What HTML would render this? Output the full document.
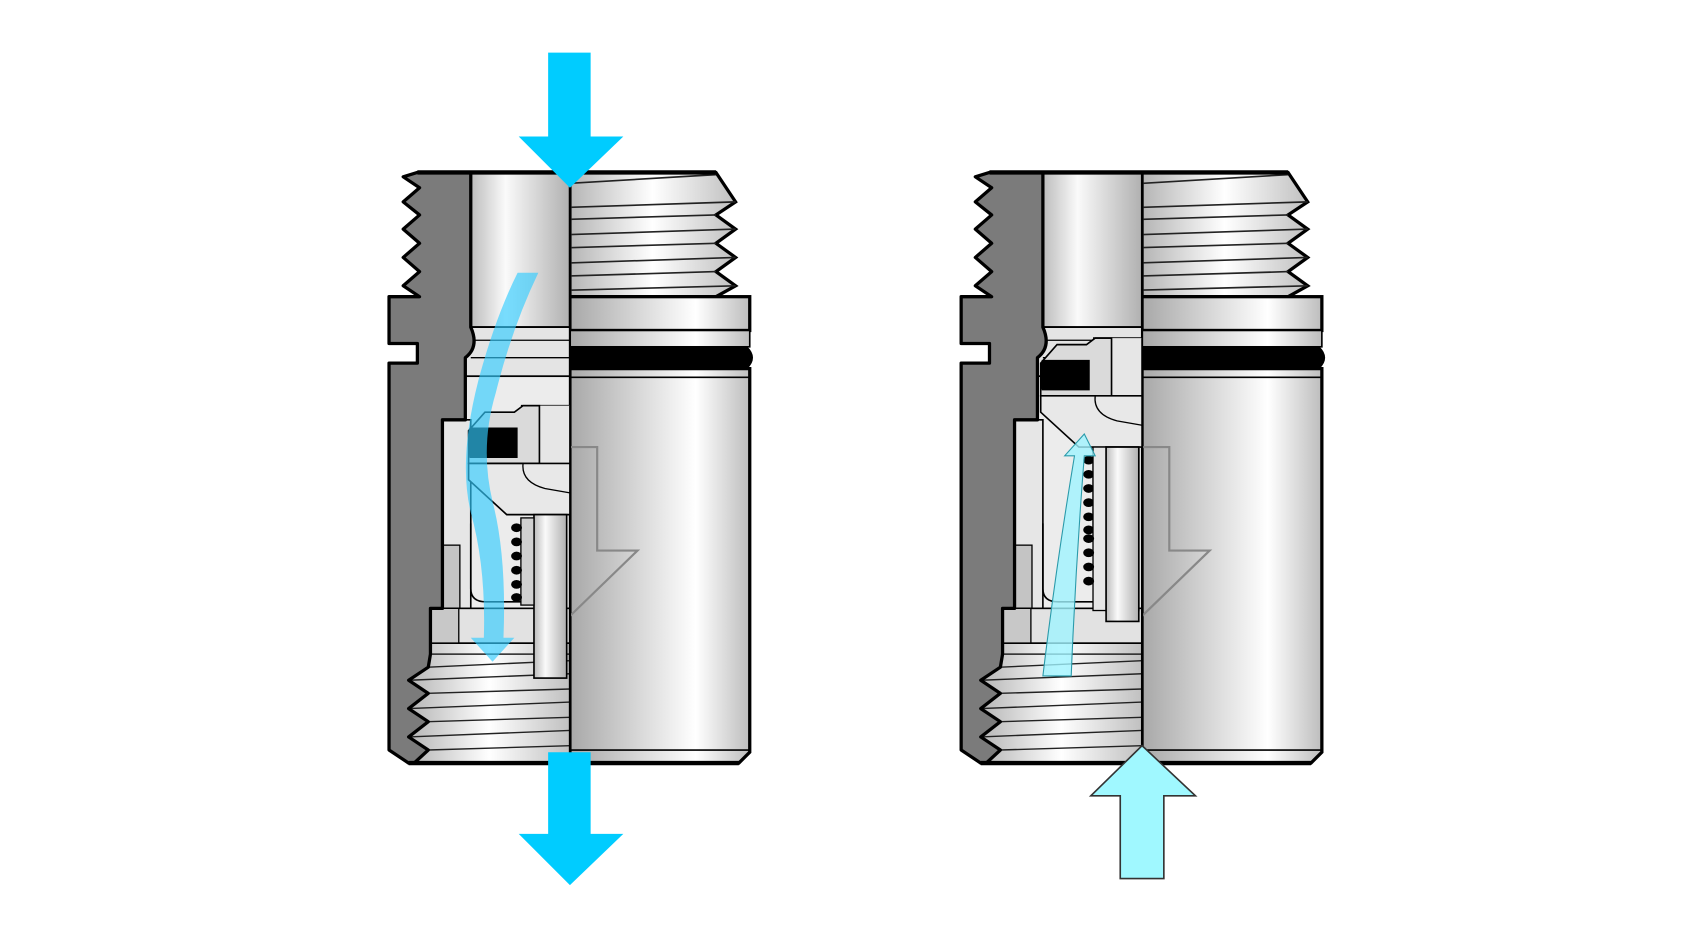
<!DOCTYPE html>
<html><head><meta charset="utf-8"><style>html,body{margin:0;padding:0;background:#fff}svg{display:block}</style></head>
<body>
<svg width="1700" height="929" viewBox="0 0 1560 852" xmlns="http://www.w3.org/2000/svg">
<defs>
<linearGradient id="cyl" x1="0" x2="1" y1="0" y2="0">
<stop offset="0" stop-color="#a8a8a8"/><stop offset="0.7" stop-color="#ffffff"/><stop offset="1" stop-color="#bdbdbd"/></linearGradient>
<linearGradient id="bore" x1="0" x2="1" y1="0" y2="0">
<stop offset="0" stop-color="#bcbcbc"/><stop offset="0.35" stop-color="#fafafa"/><stop offset="1" stop-color="#b0b0b0"/></linearGradient>
<linearGradient id="thr" x1="0" x2="1" y1="0" y2="0">
<stop offset="0" stop-color="#b5b5b5"/><stop offset="0.5" stop-color="#ffffff"/><stop offset="1" stop-color="#c0c0c0"/></linearGradient>
<g id="body">
  <path d="M523,158 L657,158 L675,185 L657,197 L675,210 L657,223 L675,236 L657,249 L675,262 L657,272 L523,272 Z" fill="url(#thr)" stroke="#000" stroke-width="3"/>
  <g stroke="#222" stroke-width="1.5" fill="none">
    <path d="M523,168 L657,160"/><path d="M523,190 L675,185"/><path d="M523,201 L657,197"/>
    <path d="M523,215 L675,210"/><path d="M523,227 L657,223"/><path d="M523,241 L675,236"/>
    <path d="M523,253 L657,249"/><path d="M523,266 L675,262"/>
  </g>
  <rect x="523" y="272" width="165" height="31" fill="url(#cyl)" stroke="#000" stroke-width="3"/>
  <rect x="523" y="303" width="165" height="15" fill="url(#cyl)" stroke="#000" stroke-width="1.5"/>
  <path d="M523,318 L686,318 Q696,328 686,338 L523,338 Z" fill="#000"/>
  <path d="M523,338 L688,338 L688,690 L678,700 L523,700 Z" fill="url(#cyl)" stroke="#000" stroke-width="3"/>
  <line x1="523" y1="346" x2="688" y2="346" stroke="#000" stroke-width="1.5"/>
  <line x1="523" y1="688" x2="688" y2="688" stroke="#000" stroke-width="1.5"/>
  <path d="M523,410 L548,410 L548,505 L585,505 L523,565" fill="none" stroke="#888" stroke-width="2"/>
  <rect x="432" y="158" width="91" height="142" fill="url(#bore)" stroke="#000" stroke-width="2"/>
  <path d="M432,300 L523,300 L523,345 L427,345 L427,328 Q440,318 432,300 Z" fill="#e4e4e4" stroke="#000" stroke-width="1.5"/>
  <line x1="436" y1="312" x2="523" y2="312" stroke="#000" stroke-width="1.2"/>
  <line x1="432" y1="328" x2="523" y2="328" stroke="#000" stroke-width="1.2"/>
  <rect x="427" y="345" width="96" height="245" fill="#ececec" stroke="#000" stroke-width="1.5"/>
  <rect x="406" y="385" width="26" height="205" fill="#e6e6e6" stroke="#000" stroke-width="1.5"/>
  <rect x="406" y="500" width="16" height="58" fill="#c4c4c4" stroke="#000" stroke-width="1.2"/>
  <rect x="395" y="558" width="128" height="32" fill="#e2e2e2" stroke="#000" stroke-width="1.5"/>
  <rect x="395" y="558" width="26" height="32" fill="#c8c8c8" stroke="#000" stroke-width="1.2"/>
  <path d="M432,480 L432,540 Q432,552 446,552 L480,552" fill="none" stroke="#000" stroke-width="1.5"/>
  <path d="M393,590 L523,590 L523,700 L380,700 L393,688 L375,676 L393,662 L375,650 L393,636 L375,624 L393,612 Z" fill="url(#thr)" stroke="#000" stroke-width="1.5"/>
  <g stroke="#222" stroke-width="1.3">
    <line x1="393" y1="600" x2="523" y2="600"/><line x1="393" y1="612" x2="523" y2="606"/>
    <line x1="375" y1="624" x2="523" y2="618"/><line x1="393" y1="636" x2="523" y2="632"/>
    <line x1="375" y1="650" x2="523" y2="644"/><line x1="393" y1="662" x2="523" y2="658"/>
    <line x1="375" y1="676" x2="523" y2="670"/><line x1="393" y1="688" x2="523" y2="684"/>
  </g>
  <path d="M383,158 L432,158 L432,300 Q440,318 427,328 L427,385 L406,385 L406,558 L395,558 L395,600 L393,612 L375,624 L393,636 L375,650 L393,662 L375,676 L393,688 L380,700 L375,700 L357,688 L357,333 L383,333 L383,315 L357,315 L357,272 L385,272 L370,262 L385,249 L370,236 L385,223 L370,210 L385,197 L370,185 L385,172 L370,162 Z" fill="#7b7b7b" stroke="#000" stroke-width="3" stroke-linejoin="round"/>
  <line x1="523" y1="158" x2="523" y2="700" stroke="#000" stroke-width="2"/>
  <path d="M383,158 L657,158" stroke="#000" stroke-width="4"/>
  <path d="M375,700 L678,700" stroke="#000" stroke-width="4"/>
</g>
<g id="valve">
  <path d="M430,395 L445,378 L472,378 L480,372 L523,372 L523,425 L430,425 Z" fill="#dadada" stroke="#000" stroke-width="1.5"/>
  <path d="M431,392 L475,392 L475,420 L431,420 Q428,405 431,392 Z" fill="#000"/>
  <path d="M478,372 L495,372 L495,432 Q498,446 510,446 L523,446 L523,372" fill="#e6e6e6" stroke="#000" stroke-width="1.5"/>
  <path d="M430,425 L523,425 L523,472 L465,472 L430,440 Z" fill="#e8e8e8" stroke="#000" stroke-width="1.5"/>
  <path d="M430,425 L480,425 Q478,442 500,448 L523,452" fill="none" stroke="#000" stroke-width="1.2"/>
  <rect x="490" y="472" width="30" height="150" fill="url(#bore)" stroke="#000" stroke-width="1.5"/>
  <rect x="478" y="475" width="12" height="80" fill="#d0d0d0" stroke="#000" stroke-width="1.2"/>
  <g fill="#000">
    <ellipse cx="474" cy="484" rx="5" ry="4"/><ellipse cx="474" cy="497" rx="5" ry="4"/><ellipse cx="474" cy="510" rx="5" ry="4"/>
    <ellipse cx="474" cy="523" rx="5" ry="4"/><ellipse cx="474" cy="536" rx="5" ry="4"/><ellipse cx="474" cy="548" rx="5" ry="4"/>
  </g>
</g>
</defs>

<use href="#body"/>
<use href="#valve"/>
<path d="M475,250 L494,250 Q470,300 455,360 Q440,410 452,460 Q465,510 462,585 L472,585 L452,607 L432,585 L444,585 Q446,520 432,470 Q420,420 440,345 Q455,290 475,250 Z" fill="#33ccff" fill-opacity="0.65"/>
<path d="M503,48 L542,48 L542,125 L572,125 L523,172 L476,125 L503,125 Z" fill="#00ccff"/>
<path d="M503,690 L542,690 L542,765 L572,765 L523,812 L476,765 L503,765 Z" fill="#00ccff"/>

<g transform="translate(525,0)">
  <use href="#body"/>
  <g transform="translate(0,-62)"><use href="#valve"/></g>
  <rect x="478" y="410" width="12" height="150" fill="#e6e6e6" stroke="#000" stroke-width="1.2"/>
  <rect x="490" y="410" width="30" height="160" fill="url(#bore)" stroke="#000" stroke-width="1.5"/>
  <g fill="#000"><ellipse cx="474" cy="494" rx="5" ry="4"/><ellipse cx="474" cy="507" rx="5" ry="4"/><ellipse cx="474" cy="520" rx="5" ry="4"/><ellipse cx="474" cy="533" rx="5" ry="4"/></g>
  <path d="M432,620 L458,620 Q462,520 470,418 L480,418 L470,398 L452,418 L461,418 Q444,520 432,620 Z" fill="#a0f4ff" fill-opacity="0.8" stroke="#2a9aaa" stroke-width="1"/>
</g>
<path d="M1028,806 L1068,806 L1068,730 L1097,730 L1048,684 L1001,730 L1028,730 Z" fill="#a0f8ff" stroke="#333" stroke-width="1.5"/>
</svg>
</body></html>
